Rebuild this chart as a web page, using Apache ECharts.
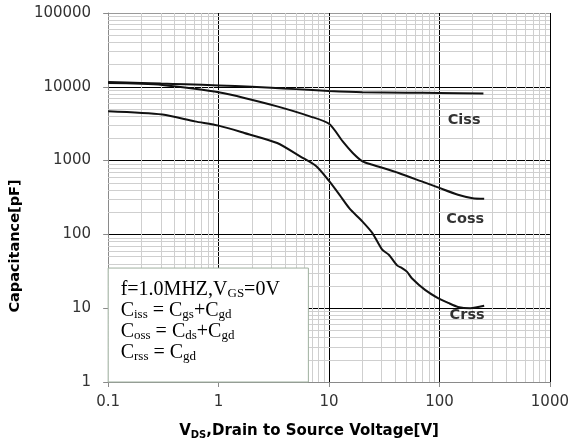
<!DOCTYPE html>
<html>
<head>
<meta charset="utf-8">
<script src="https://cdn.jsdelivr.net/npm/echarts@6/dist/echarts.min.js"></script>
<style>
  html, body { margin: 0; padding: 0; background: #fff; }
  #chart { width: 572px; height: 448px; }
</style>
</head>
<body>
<div id="chart"></div>
<script>
// Capacitance vs. drain-source voltage (f = 1 MHz, VGS = 0 V)
const cissV = [0.1, 0.2, 0.3, 0.5, 1, 2, 3, 5, 10, 20, 50, 100, 250];
const cissC = [11600, 11300, 11050, 10800, 10450, 10000, 9700, 9300, 8800, 8450, 8300, 8250, 8100];

const cossV = [0.1, 0.2, 0.31, 0.61, 1, 1.71, 3.39, 6.71, 10, 13.3, 16.4, 20.1, 24.7, 42.7, 69, 97, 147, 200, 254];
const cossC = [11300, 11000, 10600, 9400, 8420, 7060, 5430, 3980, 3150, 1820, 1270, 977, 880, 679, 522, 433, 345, 310, 304];

const crssV = [0.1, 0.31, 0.61, 1, 1.71, 3.39, 5.47, 7.71, 10, 12.5, 15.3, 20, 24.7, 30.3, 34.8, 41.3, 45.8, 50.7, 56.2, 74, 97, 120, 147, 190, 254];
const crssC = [4650, 4200, 3400, 2980, 2370, 1730, 1140, 834, 530, 340, 225, 150, 104, 62, 53, 38, 34.9, 31.3, 25.5, 17.7, 13.7, 11.8, 10.4, 10, 10.8];

// curve names and where each name sits (data units)
const curveNames = ['Ciss', 'Coss', 'Crss'];
const curveNameV = [167, 171, 178];
const curveNameC = [3480, 163, 8.1];

// decade ticks of both axes
const xDecades = [0.1, 1, 10, 100, 1000];
const yDecades = [1, 10, 100, 1000, 10000, 100000];

// intermediate grid values 2..9 within each decade
function minorValues(decades) {
  const out = [];
  for (let i = 0; i < decades.length - 1; i++) {
    for (let m = 2; m <= 9; m++) out.push(+(decades[i] * m).toPrecision(6));
  }
  return out;
}
const xMinor = minorValues(xDecades);
const yMinor = minorValues(yDecades);

function pairs(xs, ys) { return xs.map((x, i) => [x, ys[i]]); }

const tickFmt = v => String(+(+v).toPrecision(6));
const tickFont = { fontFamily: 'DejaVu Sans', fontSize: 15, color: '#333' };
const axisGray = '#8a8a8a';

const chart = echarts.init(document.getElementById('chart'), null, { renderer: 'canvas' });

const curveStyle = { color: '#111', width: 2 };

chart.setOption({
  animation: false,
  backgroundColor: '#fff',
  grid: { left: 102, top: 13, width: 448, height: 369 },
  xAxis: {
    type: 'log', logBase: 10, min: xDecades[0], max: xDecades[xDecades.length - 1],
    axisLine: { show: true, lineStyle: { color: axisGray, width: 1 } },
    axisTick: { show: true, length: 5, inside: false, lineStyle: { color: axisGray } },
    axisLabel: Object.assign({ margin: 13, formatter: tickFmt }, tickFont),
    splitLine: { show: true, lineStyle: { color: ['#8a8a8a', '#000', '#000', '#000', '#000'], width: 1 } },
    name: '{v|V}{s|DS}{v|,Drain to Source Voltage[V]}',
    nameLocation: 'middle', nameGap: 40,
    nameTextStyle: {
      padding: [0, 40, 0, 0],
      rich: {
        v: { fontFamily: 'DejaVu Sans', fontWeight: 'bold', fontSize: 15, color: '#000', lineHeight: 18 },
        s: { fontFamily: 'DejaVu Sans', fontWeight: 'bold', fontSize: 10, color: '#000', lineHeight: 10, verticalAlign: 'bottom' }
      }
    }
  },
  yAxis: {
    type: 'log', logBase: 10, min: yDecades[0], max: yDecades[yDecades.length - 1],
    axisLine: { show: true, lineStyle: { color: axisGray, width: 1 } },
    axisTick: { show: true, length: 5, inside: false, lineStyle: { color: axisGray } },
    axisLabel: Object.assign({ margin: 17, formatter: tickFmt }, tickFont),
    splitLine: { show: true, lineStyle: { color: ['#8a8a8a', '#000', '#000', '#000', '#000', '#9a9a9a'], width: 1 } },
    name: 'Capacitance[pF]',
    nameLocation: 'middle', nameGap: 78,
    nameTextStyle: {
      fontFamily: 'DejaVu Sans', fontWeight: 'bold', fontSize: 14.5, color: '#000',
      padding: [0, 97, 0, 0]
    }
  },
  series: [
    {
      // light intermediate grid
      name: 'grid', type: 'line', data: [[xDecades[0], yDecades[0]]],
      showSymbol: false, silent: true, z: 1,
      lineStyle: { width: 0 },
      markLine: {
        z: 1,
        silent: true, symbol: ['none', 'none'], animation: false,
        label: { show: false },
        lineStyle: { color: '#cfcfcf', width: 1, type: 'solid' },
        emphasis: { disabled: true },
        data: xMinor.map(v => ({ xAxis: v })).concat(yMinor.map(v => ({ yAxis: v })))
      }
    },
    {
      // condition / definition box
      name: 'note', type: 'line', data: [[xDecades[0], yDecades[0]]],
      showSymbol: false, silent: true, z: 3,
      lineStyle: { width: 0 },
      markArea: {
        z: 4,
        silent: true, animation: false,
        itemStyle: { color: '#fff', opacity: 1, borderColor: '#9fb09f', borderWidth: 1 },
        emphasis: { disabled: true },
        label: {
          show: true, position: 'insideTopLeft', distance: 0,
          padding: [12, 0, 0, 13],
          formatter: [
            '{n|f=1.0MHZ,V}{s|GS}{n|=0V}',
            '{n|C}{s|iss}{n| = C}{s|gs}{n|+C}{s|gd}',
            '{n|C}{s|oss}{n| = C}{s|ds}{n|+C}{s|gd}',
            '{n|C}{s|rss}{n| = C}{s|gd}'
          ].join('\n'),
          rich: {
            n: { fontFamily: 'Liberation Serif', fontSize: 20, color: '#000', lineHeight: 21 },
            s: { fontFamily: 'Liberation Serif', fontSize: 13, color: '#000', lineHeight: 12, verticalAlign: 'bottom' }
          }
        },
        data: [[{ xAxis: 0.1, yAxis: 1 }, { xAxis: 6.5, yAxis: 35 }]]
      }
    },
    {
      name: 'Ciss', type: 'line', data: pairs(cissV, cissC), showSymbol: false,
      smooth: 0.25, lineStyle: curveStyle, z: 5, silent: true
    },
    {
      name: 'Coss', type: 'line', data: pairs(cossV, cossC), showSymbol: false,
      smooth: 0.25, lineStyle: curveStyle, z: 5, silent: true
    },
    {
      name: 'Crss', type: 'line', data: pairs(crssV, crssC), showSymbol: false,
      smooth: 0.25, lineStyle: curveStyle, z: 5, silent: true
    },
    {
      name: 'names', type: 'scatter', symbolSize: 0, z: 6, silent: true,
      data: curveNames.map((n, i) => ({ name: n, value: [curveNameV[i], curveNameC[i]] })),
      label: {
        show: true, position: 'inside', formatter: p => p.name,
        fontFamily: 'DejaVu Sans', fontWeight: 'bold', fontSize: 14.5, color: '#000'
      }
    }
  ]
});
</script>
</body>
</html>
